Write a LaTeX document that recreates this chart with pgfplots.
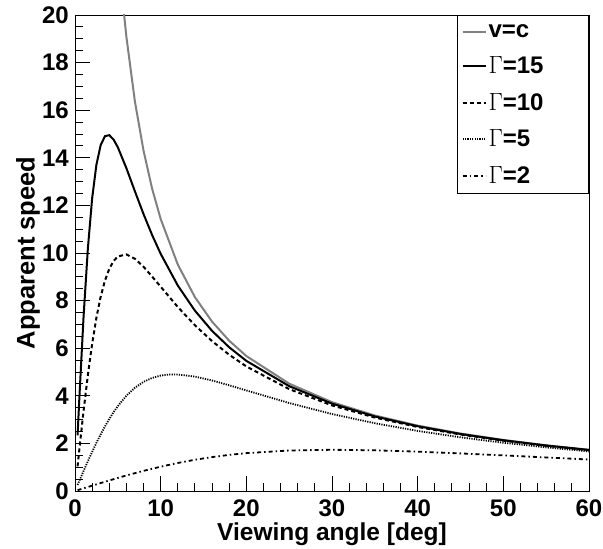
\documentclass[border=0pt]{standalone}
\usepackage{pgfplots}
\pgfplotsset{compat=1.18}
\usepackage{fontspec}
\setmainfont{Liberation Sans}
\definecolor{cgray}{RGB}{128,128,128}
\begin{document}
\begin{tikzpicture}
\begin{axis}[
  scale only axis, width=514pt, height=476pt,
  xmin=0, xmax=60, ymin=0, ymax=20,
  xtick={0,10,20,30,40,50,60}, minor x tick num=4,
  ytick={0,2,4,6,8,10,12,14,16,18,20}, minor y tick num=3,
  tick pos=left, tick align=inside,
  major tick length=15pt, minor tick length=8pt,
  every tick/.style={black, line width=0.9pt},
  axis line style={line width=0.9pt},
  /pgf/number format/assume math mode=true,
  tick label style={font=\fontsize{24}{26}\selectfont\bfseries, inner sep=0pt},
  xticklabel style={anchor=north, yshift=-9pt},
  yticklabel style={anchor=east, xshift=-6pt},
  xlabel={Viewing angle [deg]}, ylabel={Apparent speed},
  every axis x label/.style={at={(axis description cs:0.5,0)}, anchor=base, yshift=-50pt, font=\fontsize{24.5}{26}\selectfont\bfseries},
  every axis y label/.style={at={(axis description cs:0,0.5)}, xshift=-47pt, rotate=90, anchor=center, font=\fontsize{25.5}{27}\selectfont\bfseries},
  legend style={at={(rel axis cs:1,1)}, anchor=north east, draw=black, line width=0.9pt,
    font=\fontsize{24}{26}\selectfont\bfseries, inner xsep=4pt, inner ysep=7pt,
    row sep=14pt, cells={anchor=west, text width=94pt}},
  legend image code/.code={\draw[#1] (0pt,0pt) -- (23pt,0pt);},
]
\addplot[cgray, line width=2pt] coordinates {
(5.5,20.818) (6,19.081) (7,16.350) (8,14.301) (9,12.706) (10,11.430) (12,9.514) (14,8.144) (16,7.115) (18,6.314) (20,5.671) (25,4.511) (30,3.732) (35,3.172) (40,2.747) (45,2.414) (50,2.145) (55,1.921) (60,1.732)};
\addlegendentry{v=c}
\addplot[black, line width=2pt] coordinates {
(0.3,2.334) (0.5,3.848) (1,7.327) (1.5,10.176) (2,12.294) (2.5,13.710) (3,14.537) (3.5,14.908) (4,14.951) (4.5,14.769) (5,14.442) (6,13.562) (7,12.585) (8,11.635) (9,10.758) (10,9.967) (12,8.633) (14,7.576) (16,6.728) (18,6.039) (20,5.469) (25,4.406) (30,3.671) (35,3.133) (40,2.722) (45,2.396) (50,2.131) (55,1.911) (60,1.724)};
\addlegendentry{$\Gamma$=15}
\addplot[black, line width=2pt, dash pattern=on 4pt off 3pt] coordinates {
(0.3,1.036) (0.5,1.719) (1,3.363) (1.5,4.865) (2,6.180) (2.5,7.283) (3,8.167) (3.5,8.844) (4,9.334) (4.5,9.662) (5,9.856) (6,9.940) (7,9.756) (8,9.423) (9,9.011) (10,8.584) (12,7.732) (14,6.963) (16,6.297) (18,5.725) (20,5.234) (25,4.281) (30,3.597) (35,3.086) (40,2.690) (45,2.373) (50,2.115) (55,1.899) (60,1.715)};
\addlegendentry{$\Gamma$=10}
\addplot[black, line width=1.8pt, dash pattern=on 1.2pt off 1.2pt] coordinates {
(0.3,0.254) (0.5,0.4224) (1,0.8401) (1.5,1.2487) (2,1.6439) (2.5,2.0220) (3,2.3799) (3.5,2.7150) (4,3.0255) (4.5,3.3100) (5,3.5682) (6,4.0051) (7,4.3409) (8,4.5852) (9,4.7502) (10,4.8487) (11,4.8933) (12,4.8952) (14,4.8072) (16,4.6435) (18,4.4422) (20,4.2262) (25,3.6970) (30,3.2342) (35,2.8470) (40,2.5249) (45,2.2554) (50,2.0275) (55,1.8324) (60,1.6634)};
\addlegendentry{$\Gamma$=5}
\addplot[black, line width=1.8pt, dash pattern=on 4pt off 3pt on 1.5pt off 3pt] coordinates {
(0.3,0.034) (2,0.2247) (4,0.4439) (6,0.6526) (8,0.8464) (10,1.0221) (12,1.1776) (14,1.3119) (16,1.4249) (18,1.5174) (20,1.5907) (25,1.7014) (30,1.7321) (35,1.7094) (40,1.6539) (45,1.5798) (50,1.4964) (55,1.4096) (60,1.3228)};
\addlegendentry{$\Gamma$=2}
\end{axis}
\pgfresetboundingbox
\path (-75pt,-58pt) rectangle (528pt,491pt);
\end{tikzpicture}
\end{document}
